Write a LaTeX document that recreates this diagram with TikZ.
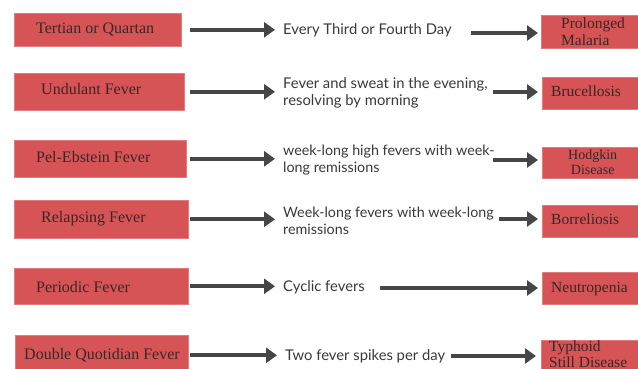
\documentclass[tikz,border=0pt]{standalone}
\usepackage{fontspec}
\setmainfont{Liberation Serif}
\newfontfamily\latofont{Lato}
\usetikzlibrary{arrows.meta}
\definecolor{boxred}{HTML}{D65456}
\definecolor{boxedge}{HTML}{E27C7C}
\definecolor{boxtext}{HTML}{3A2626}
\definecolor{midtext}{HTML}{3A3A3A}
\definecolor{arrgray}{HTML}{464646}
\tikzset{
  redbox/.style={fill=boxred, draw=boxedge, line width=0.6pt, inner sep=0pt, anchor=north west},
  lefttext/.style={anchor=base west, inner sep=0pt, text=boxtext, font=\fontsize{16}{18}\selectfont},
  righttext/.style={anchor=base west, inner sep=0pt, text=boxtext, align=left, font=\fontsize{15.5}{16}\selectfont},
  midlabel/.style={anchor=west, inner sep=0pt, text=midtext, align=left, font=\latofont\fontsize{14.8}{17}\selectfont},
  arr/.style={draw=arrgray, line width=4pt, -{Triangle[length=11pt,width=15pt]}}
}
\begin{document}
\begin{tikzpicture}[x=1pt,y=-1pt]
\useasboundingbox (0,0) rectangle (638,369);
\fill[white] (0,0) rectangle (638,369);
% left boxes
\node[redbox, minimum width=167pt, minimum height=33pt] (b1) at (14,13) {};
\node[redbox, minimum width=170pt, minimum height=37pt] (b2) at (14,73) {};
\node[redbox, minimum width=172pt, minimum height=37pt] (b3) at (14,140) {};
\node[redbox, minimum width=174pt, minimum height=38pt] (b4) at (14,200) {};
\node[redbox, minimum width=174pt, minimum height=36pt] (b5) at (14,268) {};
\node[redbox, minimum width=173pt, minimum height=40pt] (b6) at (15,335) {};
\node[lefttext] (l1) at (36,33.5) {Tertian or Quartan};
\node[lefttext] (l2) at (41,94.5) {Undulant Fever};
\node[lefttext] (l3) at (36,162) {Pel-Ebstein Fever};
\node[lefttext] (l4) at (41,222) {Relapsing Fever};
\node[lefttext] (l5) at (36,292.5) {Periodic Fever};
\node[lefttext] (l6) at (24,359) {Double Quotidian Fever};
% right boxes
\node[redbox, minimum width=104pt, minimum height=33pt] (r1) at (541,15) {};
\node[redbox, minimum width=103pt, minimum height=32pt] (r2) at (542,77) {};
\node[redbox, minimum width=103pt, minimum height=31pt] (r3) at (542,147) {};
\node[redbox, minimum width=103pt, minimum height=32pt] (r4) at (542,205) {};
\node[redbox, minimum width=103pt, minimum height=32pt] (r5) at (542,272) {};
\node[redbox, minimum width=104pt, minimum height=35pt] (r6) at (541,340) {};
\node[righttext, anchor=west, font=\fontsize{15.5}{17}\selectfont] (rt1) at (561,31.5) {Prolonged\\Malaria};
\node[righttext] (rt2) at (551,97) {Brucellosis};
\node[righttext, anchor=west, align=center, font=\fontsize{14}{15}\selectfont] (rt3) at (568,162.5) {Hodgkin\\Disease};
\node[righttext] (rt4) at (551,224) {Borreliosis};
\node[righttext] (rt5) at (551,292) {Neutropenia};
\node[righttext, anchor=west, font=\fontsize{15.5}{15.5}\selectfont] (rt6) at (549,354) {Typhoid\\Still Disease};
% middle texts
\node[midlabel, anchor=base west] (m1) at (283,35) {Every Third or Fourth Day};
\node[midlabel] (m2) at (283,92.5) {Fever and sweat in the evening,\\resolving by morning};
\node[midlabel, font=\latofont\fontsize{14.3}{17}\selectfont] (m3) at (283,160) {week-long high fevers with week-\\long remissions};
\node[midlabel, font=\latofont\fontsize{14.3}{17}\selectfont] (m4) at (283,221) {Week-long fevers with week-long\\remissions};
\node[midlabel, anchor=base west] (m5) at (283,291.5) {Cyclic fevers};
\node[midlabel, anchor=base west] (m6) at (285,360) {Two fever spikes per day};
% left arrows
\draw[arr, shorten <=8pt, shorten >=8pt] (b1.east) -- (m1.west |- b1.east);
\draw[arr, shorten <=5pt, shorten >=8pt] (b2.east) -- (m2.west |- b2.east);
\draw[arr, shorten <=3pt, shorten >=8pt] (b3.east) -- (m3.west |- b3.east);
\draw[arr, shorten <=1pt, shorten >=8pt] (b4.east) -- (m4.west |- b4.east);
\draw[arr, shorten <=1pt, shorten >=8pt] (b5.east) -- (m5.west |- b5.east);
\draw[arr, shorten <=1pt, shorten >=8pt] (b6.east) -- (m6.west |- b6.east);
% right arrows
\coordinate (s1) at (471,33);
\coordinate (s2) at (493,92);
\coordinate (s3) at (493,160);
\coordinate (s4) at (499,219);
\coordinate (s5) at (380,288);
\coordinate (s6) at (451,356);
\draw[arr, shorten >=3pt] (s1) -- (r1.west |- s1);
\draw[arr, shorten >=4pt] (s2) -- (r2.west |- s2);
\draw[arr, shorten >=4pt] (s3) -- (r3.west |- s3);
\draw[arr, shorten >=4pt] (s4) -- (r4.west |- s4);
\draw[arr, shorten >=4pt] (s5) -- (r5.west |- s5);
\draw[arr, shorten >=5pt] (s6) -- (r6.west |- s6);
\end{tikzpicture}
\end{document}
